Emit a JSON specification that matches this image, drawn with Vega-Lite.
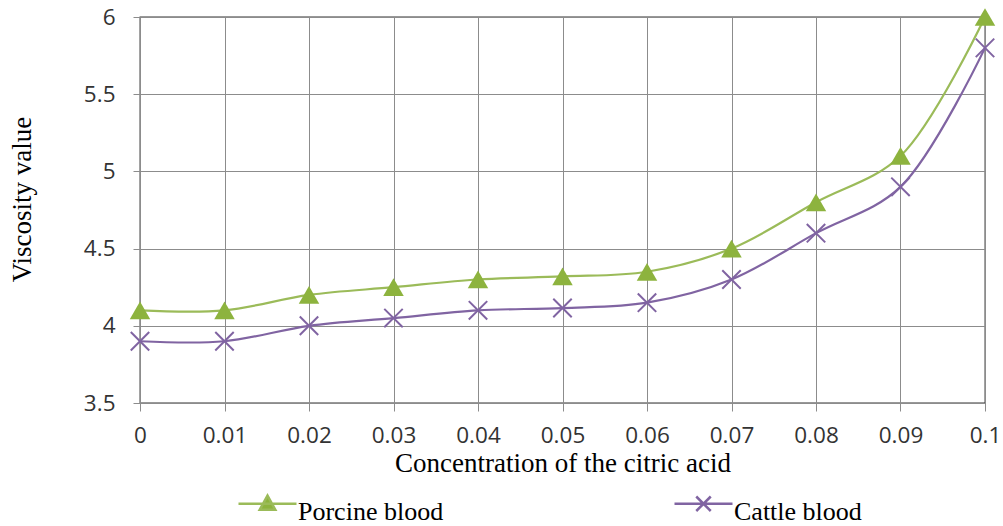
{
  "$schema": "https://vega.github.io/schema/vega-lite/v6.json",
  "autosize": {"type": "none"},
  "padding": {"left": 140, "top": 17, "right": 18, "bottom": 123},
  "width": 845,
  "height": 386,
  "background": "white",
  "config": {
    "view": {"stroke": "#333333", "strokeWidth": 1.3},
    "axis": {
      "labelFont": "Open Sans",
      "labelFontSize": 22.5,
      "labelColor": "#333333",
      "titleFont": "Liberation Serif",
      "titleFontSize": 27,
      "titleFontWeight": "normal",
      "titleColor": "#000000",
      "gridColor": "#8c8c8c",
      "gridWidth": 1,
      "gridOpacity": 1,
      "domainColor": "#8c8c8c",
      "domainWidth": 1,
      "tickColor": "#8c8c8c",
      "tickWidth": 1
    }
  },
  "data": {
    "values": [
      {"c": 0, "series": "Porcine blood", "v": 4.1},
      {"c": 0.01, "series": "Porcine blood", "v": 4.1},
      {"c": 0.02, "series": "Porcine blood", "v": 4.2},
      {"c": 0.03, "series": "Porcine blood", "v": 4.25},
      {"c": 0.04, "series": "Porcine blood", "v": 4.3},
      {"c": 0.05, "series": "Porcine blood", "v": 4.32},
      {"c": 0.06, "series": "Porcine blood", "v": 4.35},
      {"c": 0.07, "series": "Porcine blood", "v": 4.5},
      {"c": 0.08, "series": "Porcine blood", "v": 4.8},
      {"c": 0.09, "series": "Porcine blood", "v": 5.1},
      {"c": 0.1, "series": "Porcine blood", "v": 6.0},
      {"c": 0, "series": "Cattle blood", "v": 3.9},
      {"c": 0.01, "series": "Cattle blood", "v": 3.9},
      {"c": 0.02, "series": "Cattle blood", "v": 4.0},
      {"c": 0.03, "series": "Cattle blood", "v": 4.05},
      {"c": 0.04, "series": "Cattle blood", "v": 4.1},
      {"c": 0.05, "series": "Cattle blood", "v": 4.115},
      {"c": 0.06, "series": "Cattle blood", "v": 4.15},
      {"c": 0.07, "series": "Cattle blood", "v": 4.3},
      {"c": 0.08, "series": "Cattle blood", "v": 4.6},
      {"c": 0.09, "series": "Cattle blood", "v": 4.9},
      {"c": 0.1, "series": "Cattle blood", "v": 5.8}
    ]
  },
  "encoding": {
    "x": {
      "field": "c",
      "type": "quantitative",
      "scale": {"domain": [0, 0.1], "nice": false, "zero": false},
      "axis": {
        "title": "Concentration of the citric acid",
        "values": [0, 0.01, 0.02, 0.03, 0.04, 0.05, 0.06, 0.07, 0.08, 0.09, 0.1],
        "format": "~g",
        "tickSize": 8,
        "labelPadding": 13,
        "labelFlush": false,
        "labelOverlap": false,
        "titleX": 422.5,
        "titleY": 68,
        "titleAlign": "center",
        "titleBaseline": "alphabetic"
      }
    },
    "y": {
      "field": "v",
      "type": "quantitative",
      "scale": {"domain": [3.5, 6], "nice": false, "zero": false},
      "axis": {
        "title": "Viscosity value",
        "values": [3.5, 4, 4.5, 5, 5.5, 6],
        "format": "~g",
        "tickSize": 7,
        "labelPadding": 18,
        "labelFlush": false,
        "labelOverlap": false,
        "titleX": -118,
        "titleY": 182,
        "titleAngle": -90,
        "titleAlign": "center",
        "titleBaseline": "middle"
      }
    }
  },
  "layer": [
    {
      "mark": {"type": "line", "interpolate": "catmull-rom", "strokeWidth": 2.2},
      "encoding": {
        "color": {
          "field": "series",
          "type": "nominal",
          "scale": {"domain": ["Porcine blood", "Cattle blood"], "range": ["#9BBB59", "#8064A2"]},
          "legend": {
            "title": null,
            "orient": "none",
            "direction": "horizontal",
            "legendX": 97,
            "legendY": 456,
            "columnPadding": 225,
            "labelFont": "Liberation Serif",
            "labelFontSize": 26,
            "labelColor": "#000000",
            "labelOffset": 0,
            "labelLimit": 400,
            "symbolSize": 3364,
            "encode": {
              "symbols": {
                "update": {
                  "shape": {"signal": "datum.value === 'Porcine blood' ? 'M-1,0H1M-0.27,0.21L0,-0.28L0.27,0.21Z' : 'M-1,0H1M-0.25,-0.25L0.25,0.25M-0.25,0.25L0.25,-0.25'"},
                  "fill": {"signal": "datum.value === 'Porcine blood' ? '#8DB33E' : 'transparent'"},
                  "stroke": {"signal": "datum.value === 'Porcine blood' ? '#9BBB59' : '#8064A2'"},
                  "strokeWidth": {"value": 2.5},
                  "size": {"value": 3364},
                  "opacity": {"value": 1}
                }
              },
              "labels": {
                "update": {
                  "baseline": {"value": "alphabetic"},
                  "dy": {"value": 16}
                }
              }
            }
          }
        }
      }
    },
    {
      "transform": [{"filter": "datum.series === 'Porcine blood'"}],
      "mark": {"type": "point", "shape": "triangle-up", "size": 420, "filled": true, "color": "#8DB33E", "opacity": 1}
    },
    {
      "transform": [{"filter": "datum.series === 'Cattle blood'"}],
      "mark": {"type": "point", "shape": "M-1,-1L1,1M-1,1L1,-1", "size": 340, "filled": false, "stroke": "#8064A2", "strokeWidth": 2, "opacity": 1}
    }
  ]
}
